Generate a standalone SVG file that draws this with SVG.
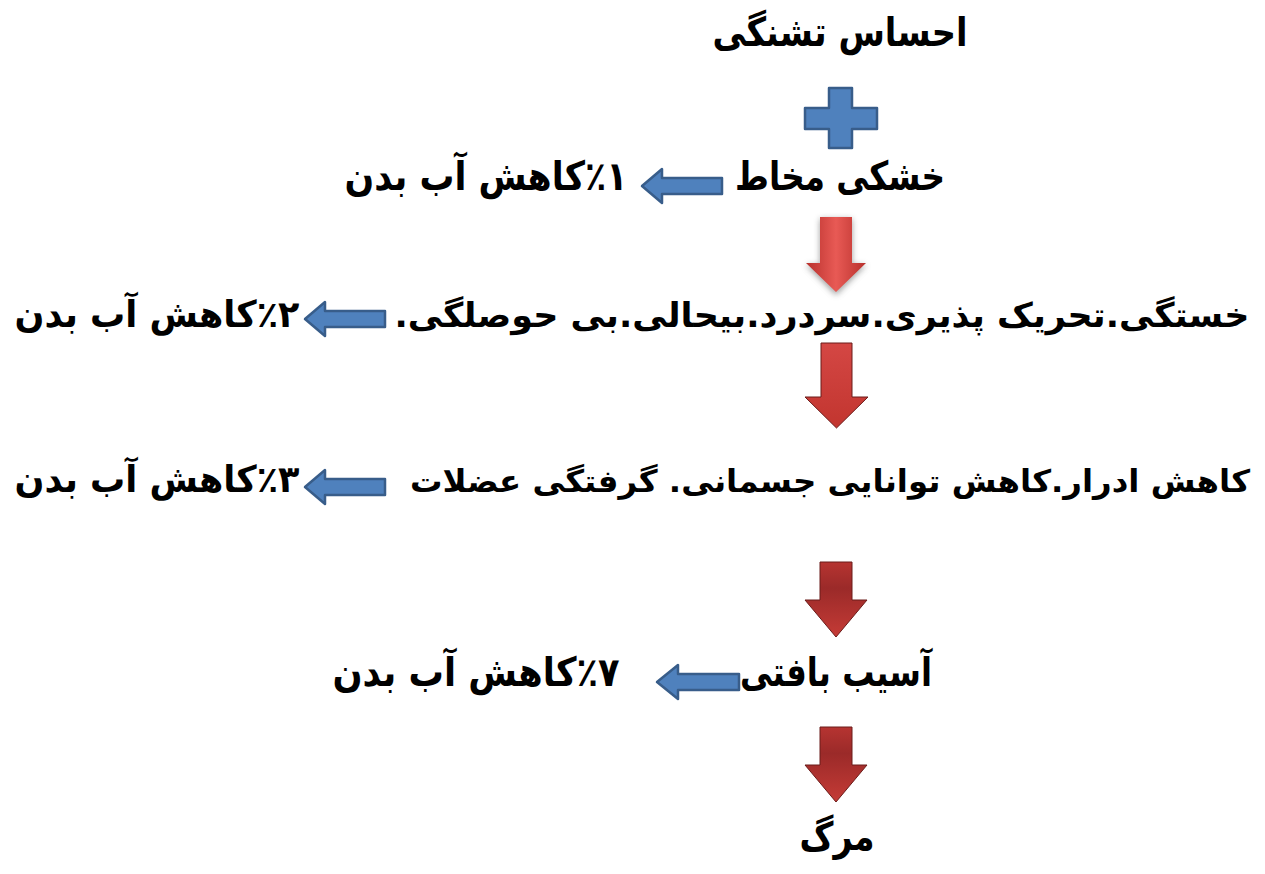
<svg xmlns="http://www.w3.org/2000/svg" width="1265" height="874" viewBox="0 0 1265 874">
<style>
.t{font-family:"DejaVu Sans","Noto Sans",sans-serif;font-weight:bold;font-size:40px;fill:#000;direction:rtl;text-anchor:middle}
.m{font-size:37px}
.l{font-size:34px}
.s{font-size:31px}
.blue{fill:#4F81BD;stroke:#385D8A;stroke-width:2.5;stroke-linejoin:round}
.red{stroke:#6b1c1a;stroke-width:1}
</style>
<defs>
<linearGradient id="shiny" x1="0" y1="0" x2="1" y2="0">
<stop offset="0" stop-color="#b8302c"/>
<stop offset="0.5" stop-color="#e85a55"/>
<stop offset="1" stop-color="#b8302c"/>
</linearGradient>
<linearGradient id="redA" x1="0" y1="0" x2="0" y2="1">
<stop offset="0" stop-color="#d44744"/>
<stop offset="1" stop-color="#c2352f"/>
</linearGradient>
<linearGradient id="redB" x1="0" y1="0" x2="0" y2="1">
<stop offset="0" stop-color="#b63431"/>
<stop offset="0.35" stop-color="#9b2a29"/>
<stop offset="1" stop-color="#c53b36"/>
</linearGradient>
<filter id="shadow" x="-30%" y="-30%" width="160%" height="160%">
<feGaussianBlur stdDeviation="3"/>
</filter>
</defs>

<g id="connectors">
<path id="plus" class="blue" d="M829,88 H852 V108 H877 V129 H852 V148 H829 V129 H805 V108 H829 Z"/>
<path class="blue" d="M642,186 L662,169 L662,178 L722,178 L722,194 L662,194 L662,203 Z"/>
<path class="blue" d="M305,319 L325,302 L325,311 L385,311 L385,327 L325,327 L325,336 Z"/>
<path class="blue" d="M305,487 L325,470 L325,479 L385,479 L385,495 L325,495 L325,504 Z"/>
<path class="blue" d="M657,682 L678,665 L678,674 L739,674 L739,690 L678,690 L678,699 Z"/>
<path d="M820,219 H852 V265 H866 L836,295 L806,265 H820 Z" fill="#777" filter="url(#shadow)" opacity="0.7"/>
<path d="M820,217 H852 V263 H866 L836,292 L806,263 H820 Z" fill="url(#shiny)"/>
<path class="red" d="M821,343 H852 V397 H868 L836.5,428 L805,397 H821 Z" fill="url(#redA)"/>
<path class="red" d="M820,562 H852 V600 H867 L836,637 L805,600 H820 Z" fill="url(#redB)"/>
<path class="red" d="M820,727 H852 V765 H867 L836,802 L805,765 H820 Z" fill="url(#redB)"/>
</g>

<g id="n-thirst"><text class="t" x="840" y="46" textLength="255" lengthAdjust="spacingAndGlyphs">احساس تشنگی</text></g>
<g id="n-mucosa"><text class="t" x="840" y="190" textLength="210" lengthAdjust="spacingAndGlyphs">خشکی مخاط</text></g>
<g id="n-loss1"><text class="t" x="486" y="190" textLength="283" lengthAdjust="spacingAndGlyphs">٪۱کاهش آب بدن</text></g>
<g id="n-fatigue"><text class="t l" x="822" y="327" textLength="855" lengthAdjust="spacingAndGlyphs">خستگی.تحریک پذیری.سردرد.بیحالی.بی حوصلگی.</text></g>
<g id="n-loss2"><text class="t m" x="157" y="327" textLength="285" lengthAdjust="spacingAndGlyphs">٪۲کاهش آب بدن</text></g>
<g id="n-urine"><text class="t s" x="830" y="492" textLength="840" lengthAdjust="spacingAndGlyphs">کاهش ادرار.کاهش توانایی جسمانی. گرفتگی عضلات</text></g>
<g id="n-loss3"><text class="t m" x="157" y="492" textLength="285" lengthAdjust="spacingAndGlyphs">٪۳کاهش آب بدن</text></g>
<g id="n-tissue"><text class="t" x="836" y="686" textLength="192" lengthAdjust="spacingAndGlyphs">آسیب بافتی</text></g>
<g id="n-loss7"><text class="t" x="476" y="686" textLength="287" lengthAdjust="spacingAndGlyphs">٪۷کاهش آب بدن</text></g>
<g id="n-death"><text class="t" x="837" y="850" textLength="75" lengthAdjust="spacingAndGlyphs">مرگ</text></g>
</svg>
